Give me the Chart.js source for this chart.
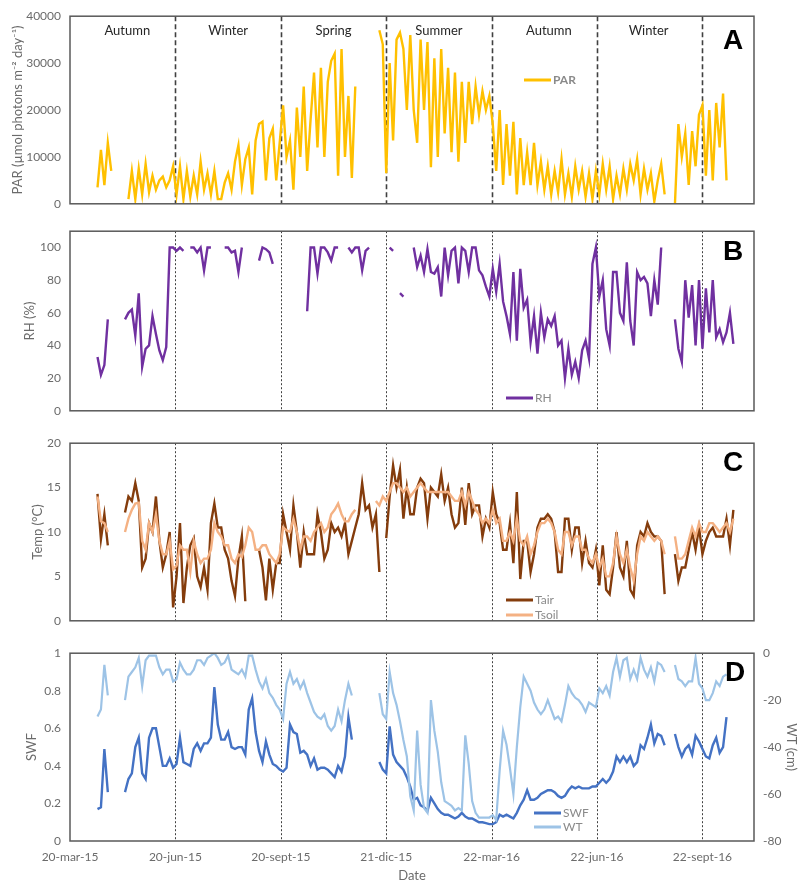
<!DOCTYPE html>
<html>
<head>
<meta charset="utf-8">
<script src="https://cdn.jsdelivr.net/npm/chart.js@4.4.1/dist/chart.umd.min.js"></script>
<style>
  body { margin: 0; background: #fff; }
  #wrap { position: relative; width: 799px; height: 884px; overflow: hidden; }
  canvas { position: absolute; left: 0; }
</style>
</head>
<body>
<div id="wrap">
  <canvas id="chartA" width="799" height="220" style="top:0px"></canvas>
  <canvas id="chartB" width="799" height="212" style="top:215px"></canvas>
  <canvas id="chartC" width="799" height="210" style="top:427px"></canvas>
  <canvas id="chartD" width="799" height="247" style="top:637px"></canvas>
</div>
<script>
// === Eje X: días desde 20-mar-15, un valor cada 3 días ===
const DAY_STEP = 3;
const tickDays = [0, 92, 184, 276, 368, 460, 552];
const tickLabels = ['20-mar-15', '20-jun-15', '20-sept-15', '21-dic-15', '22-mar-16', '22-jun-16', '22-sept-16'];
const seasonNames = ['Autumn', 'Winter', 'Spring', 'Summer', 'Autumn', 'Winter'];
const seasonDays = [50, 138, 230, 322, 418, 505];

// === Series (cada tramo: [índice inicial, valores]) ===
const parSegments = [
  [8, [3500, 11500, 4000, 13000, 7000]],
  [17, [1000, 7000, 1000, 7500, 2000, 8500, 2500, 6000, 3000, 5000, 5800, 3500, 5000, 8000, 2000, 8000, 1000, 7000, 1500, 6000,
        2000, 9000, 3000, 6500, 2000, 7000, 1000, 1000, 4500, 6500, 3000, 9000, 12500, 4000, 9500, 12000, 2000, 13500, 17000, 17500,
        5000, 14000, 16000, 5000, 13000, 21000, 10000, 13500, 3000, 20500, 10000, 25000, 7000, 18000, 28000, 12000, 29000, 10000, 26000, 30500,
        32000, 6000, 33000, 10000, 23000, 5500, 25000]],
  [90, [37000, 34000, 6500, 30000, 13500, 35000, 36500, 33000, 20000, 36000, 20000, 13000, 35000, 20000, 34500, 7800, 31000, 10000, 33000, 15000,
        29000, 11000, 28000, 9000, 26000, 13000, 26000, 17000, 25000, 19000, 24000, 20000, 23000, 17000, 7000, 20000, 4000, 17000, 6000, 17500,
        2000, 14000, 4000, 11000, 4000, 13000, 4000, 9000, 3000, 8000, 2000, 7000, 2500, 9500, 2000, 6500, 1500, 8000, 3000, 7000,
        1500, 6500, 1000, 7000, 2000, 8500, 3000, 8000, 1000, 6000, 2000, 7500, 3000, 8500, 5000, 9500, 2000, 7500, 3000, 6500,
        500, 5000, 8500, 2000]],
  [176, [0, 17000, 10000, 15000, 4000, 15500, 8000, 19000, 21000, 6000, 20000, 5000, 21500, 12000, 23500, 5000]]
];

const rhSegments = [
  [8, [33, 22, 28, 56]],
  [16, [56, 60, 62, 46, 72, 27, 38, 40, 58, 47, 37, 31, 39, 100, 100, 98, 100, 98]],
  [35, [100, 100, 97, 100, 86, 100, 100]],
  [45, [100, 100, 97, 98, 85, 100]],
  [55, [92, 100, 99, 97, 90]],
  [69, [61, 100, 100, 84, 100, 100, 97, 92, 100, 100]],
  [81, [100, 97, 100, 100, 86, 98, 100]],
  [93, [100, 98]],
  [96, [72, 70]],
  [100, [100, 88, 95, 85, 99, 85, 84, 88, 70, 100, 83, 98, 100, 78, 100, 98, 85, 100, 100, 86,
         83, 76, 70, 87, 73, 90, 67, 58, 47, 85, 43, 87, 63, 68, 42, 58, 35, 60, 45, 56,
         52, 58, 40, 43, 20, 38, 22, 30, 20, 37, 43, 32, 90, 100, 70, 80, 50, 40, 85, 85,
         60, 55, 91, 55, 40, 85, 80, 82, 78, 58, 80, 65, 100]],
  [176, [56, 38, 30, 80, 57, 77, 40, 80, 38, 75, 48, 80, 45, 50, 42, 48, 60, 41]]
];

const tairSegments = [
  [8, [14.3, 9.2, 12, 8.5]],
  [16, [12.2, 14, 13.5, 15.5, 13.5, 6, 7, 11, 10, 14, 9, 6, 7.5, 10, 1.5, 5, 11, 2, 6, 8.5,
        9.3, 5, 3.8, 6, 3.5, 11, 13.2, 10.5, 10.5, 8, 7, 4.5, 2.8, 7, 9.5, 2.2]],
  [55, [8, 6, 2.3, 7, 3.5, 6.5, 6.5, 12, 10, 8, 13, 10, 6, 10, 7.5, 7.5, 7.5, 12, 10, 7,
        8, 11, 10, 10.5, 9.5, 11, 7.5, 9, 10.5, 12, 15.5, 12.5, 13, 10.5, 12, 5.5]],
  [92, [9.3, 14, 17.5, 15, 17, 11.5, 15, 12, 12, 15, 16, 15.5, 11.5, 15, 14.5, 14, 16.5, 13.5, 15, 12,
        10.5, 11, 15, 10.8, 15.5, 12, 13, 13, 9.5, 11.5, 10.5, 14.5, 12, 11, 8, 8, 11, 6.5, 14.5, 4.7,
        9, 9, 5.5, 7.5, 10.5, 11.5, 11.5, 12, 11.5, 10, 5.5, 5.5, 11.5, 11.5, 8, 10.5, 10.5, 6.5, 9, 6.5,
        6, 8, 4, 8.5, 3.5, 3, 6, 10, 6, 5, 9, 3.5, 2.8, 8.5, 10, 9.5, 11, 10, 9.5, 9.5,
        9, 3]],
  [176, [7.5, 4.5, 6, 6, 8, 10, 8, 10.5, 7.5, 9, 10, 10.5, 9.5, 9.5, 9.5, 11.5, 8.5, 12.5]]
];

const tsoilSegments = [
  [8, [14, 11.2, 11, 10]],
  [16, [10, 11.5, 12.5, 13.2, 13.3, 9, 8, 11, 10, 12, 9, 7.5, 7.5, 9, 5.8, 6.2, 8.5, 8, 8, 5.5,
        9, 7.5, 6.5, 7, 7, 8, 11, 10, 9.5, 8.5, 8.5, 7, 6.5, 7.5, 7.2, 8.5, 10.5, 10, 8, 8,
        8.5, 8.5, 7.5, 7, 6.5, 7.5, 10.5, 10.2, 10, 11.5, 10, 8, 9.5, 9.5, 9, 10, 10.5, 11, 10, 10.5,
        12, 12.5, 13.2, 12, 11.2, 11.2, 12, 12.5]],
  [89, [13.5, 13, 14, 13.5, 14.5, 15.5, 15.5, 15, 14.5, 15, 14, 14.5, 15, 15.5, 15, 14.5, 14.5, 14.5, 14.5, 14.5,
        14.5, 14.5, 14, 13.5, 13.5, 14.5, 13, 14.5, 13.5, 12.5, 12, 11, 11.5, 11, 12.5, 11, 11.5, 9, 9, 10,
        9, 11.5, 9, 8.5, 9.5, 7.5, 8.5, 10, 11, 11, 11.5, 11, 10, 8, 7.5, 10, 10, 8.5, 9.5, 9.5,
        8, 8, 7, 6.5, 7.5, 6, 7, 5, 5, 6.5, 9.5, 7.5, 6.5, 8, 6, 4.5, 7.5, 9.5, 9, 10,
        9.5, 9, 9.5, 9, 7.5]],
  [176, [9.5, 7, 7, 7.5, 9, 10.5, 9.5, 11, 10, 10, 11, 11, 10.5, 10, 10.5, 11, 10, 11.5]]
];

const swfSegments = [
  [8, [0.17, 0.18, 0.49, 0.26]],
  [16, [0.26, 0.33, 0.36, 0.50, 0.55, 0.36, 0.33, 0.55, 0.60, 0.60, 0.50, 0.40, 0.40, 0.44, 0.39, 0.41, 0.55, 0.42, 0.41, 0.40,
        0.49, 0.52, 0.48, 0.52, 0.52, 0.55, 0.82, 0.62, 0.54, 0.54, 0.58, 0.50, 0.49, 0.50, 0.50, 0.46, 0.70, 0.76, 0.58, 0.48,
        0.42, 0.53, 0.46, 0.41, 0.40, 0.38, 0.37, 0.39, 0.62, 0.58, 0.57, 0.47, 0.48, 0.46, 0.40, 0.44, 0.38, 0.39, 0.39, 0.38,
        0.36, 0.34, 0.40, 0.37, 0.45, 0.66, 0.54]],
  [90, [0.42, 0.38, 0.36, 0.61, 0.46, 0.42, 0.40, 0.38, 0.34, 0.29, 0.22, 0.23, 0.19, 0.18, 0.16, 0.23, 0.20, 0.17, 0.15, 0.14,
        0.14, 0.13, 0.12, 0.13, 0.15, 0.13, 0.12, 0.12, 0.11, 0.10, 0.10, 0.095, 0.09, 0.09, 0.10, 0.14, 0.13, 0.14, 0.13, 0.12,
        0.15, 0.19, 0.22, 0.27, 0.22, 0.22, 0.23, 0.25, 0.26, 0.27, 0.27, 0.26, 0.24, 0.23, 0.24, 0.27, 0.29, 0.28, 0.29, 0.28,
        0.28, 0.28, 0.29, 0.29, 0.31, 0.33, 0.31, 0.33, 0.37, 0.45, 0.42, 0.45, 0.42, 0.45, 0.40, 0.42, 0.51, 0.49, 0.55, 0.62,
        0.52, 0.57, 0.56, 0.51]],
  [176, [0.57, 0.50, 0.45, 0.49, 0.51, 0.46, 0.56, 0.53, 0.49, 0.45, 0.44, 0.51, 0.55, 0.47, 0.50, 0.66]]
];

const wtSegments = [
  [8, [-27, -24, -5, -18]],
  [16, [-20, -10, -8, -6, -2, -14, -3, -1, -1, -1, -6, -9, -7, -7, -12, -11, -4, -7, -9, -9,
        -7, -3, -3, -5, -2, -1, 0, -2, -5, -4, -1, -7, -8, -9, -7, -10, -1, -1, -7, -12,
        -15, -11, -17, -19, -22, -24, -28, -13, -8, -13, -11, -15, -12, -17, -21, -25, -27, -28, -26, -31,
        -33, -31, -24, -29, -20, -13, -18]],
  [90, [-17, -26, -28, -8, -17, -22, -29, -37, -44, -61, -67, -33, -56, -66, -68, -20, -33, -42, -55, -63,
        -64, -65, -67, -66, -67, -35, -47, -63, -68, -70, -70, -70, -70, -69, -71, -50, -33, -39, -49, -60,
        -40, -23, -10, -13, -16, -21, -24, -26, -24, -20, -24, -28, -27, -29, -22, -14, -17, -19, -20, -22,
        -25, -21, -22, -23, -15, -17, -14, -18, -8, -2, -10, -3, -2, -11, -7, -11, -2, -7, -10, -6,
        -12, -4, -5, -8]],
  [176, [-5, -11, -12, -14, -12, -12, -2, -13, -15, -20, -20, -17, -12, -14, -10, -9]]
];

const parTicks = [0, 10000, 20000, 30000, 40000];
const rhTicks = [0, 20, 40, 60, 80, 100];
const tempTicks = [0, 5, 10, 15, 20];
const swfTicks = [0, 0.2, 0.4, 0.6, 0.8, 1];
const wtTicks = [-80, -60, -40, -20, 0];

// Convierte los tramos en puntos {x: día, y}; un null separa cada tramo
function toPoints(segments) {
  const pts = [];
  segments.forEach(([start, vals], k) => {
    if (k > 0) pts.push({ x: (start - 1) * DAY_STEP, y: null });
    vals.forEach((v, j) => pts.push({ x: (start + j) * DAY_STEP, y: v }));
  });
  return pts;
}

const FONT = 'Lato, "Open Sans", sans-serif';
const GREY = '#6b6b6b';

function xScale(show) {
  return {
    type: 'linear', min: 0, max: 597, display: show,
    afterBuildTicks: s => { s.ticks = tickDays.map(v => ({ value: v })); },
    afterFit: s => { if (show) s.height = 43; },
    ticks: {
      callback: (v, i) => tickLabels[i],
      color: GREY, font: { family: FONT, size: 12 }, padding: 9, maxRotation: 0, autoSkip: false
    },
    grid: { display: false, drawTicks: false },
    border: { display: false },
    title: { display: show, text: 'Date', color: GREY, font: { family: FONT, size: 13 }, padding: 0 }
  };
}

function yScale(min, max, ticksArr, title, width, position) {
  return {
    type: 'linear', min: min, max: max, position: position || 'left',
    afterBuildTicks: s => { s.ticks = ticksArr.map(v => ({ value: v })); },
    afterFit: s => { s.width = width; },
    ticks: { callback: v => String(v), color: GREY, font: { family: FONT, size: 12 }, padding: 9 },
    grid: { display: false, drawTicks: false },
    border: { display: false },
    title: { display: true, text: title, color: GREY, font: { family: FONT, size: 13 }, padding: 0 }
  };
}

// === Líneas punteadas, marco, letras, estaciones y leyenda ===
const decor = {
  id: 'decor',
  beforeDatasetsDraw(chart, args, opts) {
    const { ctx, chartArea: a, scales: { x } } = chart;
    ctx.save();
    ctx.strokeStyle = '#404040';
    ctx.lineWidth = opts.dashWidth;
    ctx.setLineDash(opts.dash);
    tickDays.slice(1).forEach(d => {
      const px = Math.round(x.getPixelForValue(d)) + 0.5;
      ctx.beginPath();
      ctx.moveTo(px, a.top);
      ctx.lineTo(px, a.bottom);
      ctx.stroke();
    });
    ctx.restore();
  },
  afterDraw(chart, args, opts) {
    const { ctx, chartArea: a, scales: { x } } = chart;
    ctx.save();
    ctx.strokeStyle = '#595959';
    ctx.lineWidth = 1.5;
    ctx.strokeRect(a.left, a.top, a.right - a.left, a.bottom - a.top);

    ctx.fillStyle = '#000';
    ctx.font = 'bold 28px "Liberation Sans", Arial, sans-serif';
    ctx.textAlign = 'center';
    ctx.textBaseline = 'middle';
    ctx.fillText(opts.letter, opts.letterX, opts.letterY);

    if (opts.seasons) {
      ctx.fillStyle = '#262626';
      ctx.font = '13px ' + FONT;
      seasonNames.forEach((s, i) => ctx.fillText(s, x.getPixelForValue(seasonDays[i]), 31));
    }

    const lg = opts.legend;
    ctx.textAlign = 'left';
    ctx.font = (lg.bold ? 'bold ' : '') + '12px ' + FONT;
    chart.data.datasets.forEach((ds, i) => {
      const y = lg.y + i * lg.gap;
      ctx.strokeStyle = ds.borderColor;
      ctx.lineWidth = 3;
      ctx.beginPath();
      ctx.moveTo(lg.x, y);
      ctx.lineTo(lg.x + 27, y);
      ctx.stroke();
      ctx.fillStyle = '#8a8a8a';
      ctx.fillText(ds.label, lg.x + 29, y);
    });
    ctx.restore();
  }
};

function lineSet(label, segments, color, width, extra) {
  return Object.assign({
    label: label, data: toPoints(segments), borderColor: color, backgroundColor: color,
    borderWidth: width, pointRadius: 0, tension: 0, spanGaps: false
  }, extra || {});
}

function baseOptions(padding, scales, decorOpts) {
  return {
    responsive: false, animation: false, parsing: true,
    layout: { padding: padding },
    scales: scales,
    plugins: { legend: { display: false }, tooltip: { enabled: false }, decor: decorOpts }
  };
}

// === Panel A: PAR ===
new Chart(document.getElementById('chartA'), {
  type: 'line',
  data: { datasets: [lineSet('PAR', parSegments, '#FFC000', 2.4)] },
  options: baseOptions({ left: 10, right: 45, top: 15, bottom: 10 },
    { x: xScale(false), y: yScale(0, 40000, parTicks, 'PAR (µmol photons m⁻² day⁻¹)', 60) },
    { letter: 'A', letterX: 733, letterY: 41, seasons: true, dash: [5, 3], dashWidth: 1.6,
      legend: { x: 524, y: 80, gap: 0, bold: true } }),
  plugins: [decor]
});

// === Panel B: RH ===
new Chart(document.getElementById('chartB'), {
  type: 'line',
  data: { datasets: [lineSet('RH', rhSegments, '#7030A0', 2.4)] },
  options: baseOptions({ left: 22, right: 45, top: 11, bottom: 9 },
    { x: xScale(false), y: yScale(0, 110, rhTicks, 'RH (%)', 48) },
    { letter: 'B', letterX: 733, letterY: 37, seasons: false, dash: [2, 2], dashWidth: 1,
      legend: { x: 506, y: 183, gap: 0 } }),
  plugins: [decor]
});

// === Panel C: Temp ===
new Chart(document.getElementById('chartC'), {
  type: 'line',
  data: { datasets: [
    lineSet('Tair', tairSegments, '#843C0C', 2.4, { order: 2 }),
    lineSet('Tsoil', tsoilSegments, '#F4B183', 2.4, { order: 1 })
  ] },
  options: baseOptions({ left: 30, right: 45, top: 10, bottom: 8 },
    { x: xScale(false), y: yScale(0, 20, tempTicks, 'Temp (°C)', 40) },
    { letter: 'C', letterX: 733, letterY: 36, seasons: false, dash: [2, 2], dashWidth: 1,
      legend: { x: 506, y: 173, gap: 15 } }),
  plugins: [decor]
});

// === Panel D: SWF y WT ===
new Chart(document.getElementById('chartD'), {
  type: 'line',
  data: { datasets: [
    lineSet('SWF', swfSegments, '#4472C4', 2.4, { order: 2, yAxisID: 'y' }),
    lineSet('WT', wtSegments, '#9DC3E6', 2.2, { order: 1, yAxisID: 'y2' })
  ] },
  options: baseOptions({ left: 24, right: 0, top: 10, bottom: 0 },
    { x: xScale(true), y: yScale(0, 1, swfTicks, 'SWF', 46), y2: yScale(-80, 0, wtTicks, 'WT (cm)', 45, 'right') },
    { letter: 'D', letterX: 735, letterY: 36, seasons: false, dash: [2, 2], dashWidth: 1,
      legend: { x: 534, y: 176, gap: 14 } }),
  plugins: [decor]
});
</script>
</body>
</html>
